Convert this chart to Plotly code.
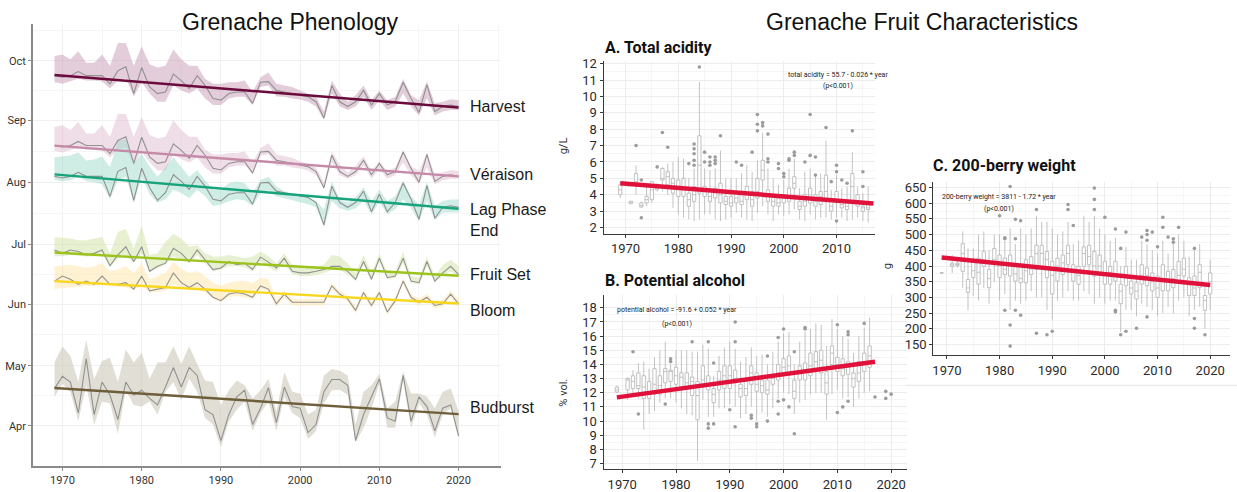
import plotly.graph_objects as go

W, H = 1237, 492


def fx(p):
    return p / W


def fy(p):
    return 1 - p / H


# ---------------- Phenology (day of year), 1969-2020 ----------------
years = list(range(1969, 2021))

harvest = [266.5, 265.7, 266.5, 268.5, 266.5, 266.5, 266.5, 262.4, 269.0, 270.9,
           257.5, 270.6, 260.8, 257.5, 258.3, 267.3, 264.0, 260.0, 266.5, 261.6,
           255.0, 254.2, 257.5, 258.3, 258.3, 252.6, 263.2, 263.5, 259.1, 258.3,
           257.5, 256.7, 255.9, 253.4, 245.2, 261.6, 253.4, 251.0, 253.4, 259.1,
           251.8, 257.5, 251.8, 253.4, 263.2, 255.0, 248.0, 262.0, 248.5, 251.0,
           251.8, 251.0]
harvest_hi = [276.3, 277.1, 274.7, 278.7, 273.0, 273.0, 277.1, 271.4, 282.8, 282.8,
              271.4, 281.2, 272.2, 270.6, 271.4, 279.6, 274.7, 271.4, 271.4, 264.9,
              262.4, 262.4, 263.2, 263.2, 264.0, 258.3, 265.7, 268.1, 262.4, 261.6,
              260.8, 259.1, 257.5, 255.9, 248.5, 264.0, 257.5, 253.4, 256.7, 261.6,
              254.2, 259.1, 254.2, 255.9, 264.9, 256.7, 254.2, 263.5, 252.6, 253.4,
              254.7, 254.2]
harvest_lo = [263.2, 262.4, 263.5, 264.9, 264.0, 264.0, 263.5, 260.0, 264.0, 265.0,
              255.9, 263.2, 257.5, 253.4, 253.4, 261.6, 259.1, 257.5, 260.0, 255.0,
              251.8, 251.8, 255.0, 255.9, 255.9, 251.8, 260.8, 261.6, 256.0, 255.9,
              255.0, 254.5, 253.4, 251.0, 244.4, 257.5, 251.0, 249.3, 251.0, 255.9,
              249.3, 254.2, 249.3, 251.0, 257.5, 251.0, 246.5, 255.0, 246.5, 248.5,
              249.3, 249.3]

veraison = [231.5, 230.7, 231.5, 233.5, 231.5, 231.5, 231.5, 227.4, 234.0, 235.9,
            222.5, 235.6, 225.8, 222.5, 223.3, 232.3, 229.0, 225.0, 231.5, 226.6,
            220.0, 219.2, 222.5, 223.3, 223.3, 217.6, 228.2, 228.5, 224.1, 223.3,
            222.5, 221.7, 220.9, 218.4, 210.2, 226.6, 218.4, 216.0, 218.4, 224.1,
            216.8, 222.5, 216.8, 218.4, 228.2, 220.0, 213.0, 227.0, 213.5, 216.0,
            216.8, 216.0]
veraison_hi = [240.8, 241.6, 239.2, 243.2, 237.5, 237.5, 241.6, 235.9, 247.3, 247.3,
               235.9, 245.7, 236.7, 235.1, 235.9, 244.1, 239.2, 235.9, 235.9, 229.4,
               226.9, 226.9, 227.7, 227.7, 228.5, 222.8, 230.2, 232.6, 226.9, 226.1,
               225.3, 223.6, 222.0, 220.4, 213.0, 228.5, 222.0, 217.9, 221.2, 226.1,
               218.7, 223.6, 218.7, 220.4, 229.4, 221.2, 218.7, 228.0, 217.1, 217.9,
               219.2, 218.7]
veraison_lo = [228.7, 227.9, 229.0, 230.4, 229.5, 229.5, 229.0, 225.5, 229.5, 230.5,
               221.4, 228.7, 223.0, 218.9, 218.9, 227.1, 224.6, 223.0, 225.5, 220.5,
               217.3, 217.3, 220.5, 221.4, 221.4, 217.3, 226.3, 227.1, 221.5, 221.4,
               220.5, 220.0, 218.9, 216.5, 209.9, 223.0, 216.5, 214.8, 216.5, 221.4,
               214.8, 219.7, 214.8, 216.5, 223.0, 216.5, 212.0, 220.5, 212.0, 214.0,
               214.8, 214.8]

lag_end = [216.0, 215.2, 216.0, 218.0, 216.0, 216.0, 216.0, 206.0, 218.5, 220.4,
           204.0, 220.1, 210.3, 204.0, 207.8, 216.8, 213.5, 209.5, 216.0, 211.1,
           204.5, 203.7, 207.0, 207.8, 207.8, 202.1, 212.7, 213.0, 208.6, 207.8,
           207.0, 206.2, 205.4, 202.9, 191.7, 211.1, 202.9, 200.5, 202.9, 208.6,
           198.3, 207.0, 198.3, 202.9, 212.7, 204.5, 194.5, 211.5, 195.0, 200.5,
           201.3, 200.5]
lag_end_hi = [225.6, 226.0, 226.5, 228.1, 224.0, 224.5, 226.0, 220.7, 233.8, 234.6,
              222.4, 227.3, 221.0, 215.8, 220.7, 225.6, 220.7, 215.8, 219.1, 214.2,
              209.3, 209.3, 212.6, 213.4, 212.6, 207.7, 214.2, 215.8, 210.9, 208.5,
              207.5, 206.8, 205.5, 203.6, 199.5, 213.5, 204.4, 202.8, 205.5, 210.5,
              203.6, 209.3, 203.6, 206.0, 214.0, 206.0, 201.9, 213.0, 201.1, 203.6,
              204.4, 204.4]
lag_end_lo = [214.2, 213.5, 214.0, 215.8, 213.5, 213.0, 212.0, 204.4, 214.2, 215.8,
              202.5, 215.8, 207.0, 202.8, 204.5, 209.3, 207.7, 205.0, 209.3, 206.0,
              201.1, 201.9, 203.5, 204.5, 204.0, 201.1, 207.7, 209.0, 206.0, 205.0,
              204.0, 203.0, 202.0, 200.5, 190.5, 203.6, 200.0, 198.7, 200.0, 203.6,
              197.0, 203.0, 197.0, 199.5, 204.4, 200.0, 193.5, 203.6, 194.0, 197.9,
              197.9, 197.9]

fruit_set = [179.1, 177.4, 179.1, 178.3, 176.6, 177.4, 179.1, 171.2, 176.6, 180.7,
             173.3, 180.7, 168.4, 170.9, 172.5, 179.9, 177.4, 173.3, 179.1, 174.2,
             169.3, 170.1, 173.3, 171.7, 172.5, 169.3, 175.5, 173.0, 170.1, 175.0,
             168.4, 167.6, 167.6, 168.4, 169.3, 170.9, 170.9, 168.4, 164.4, 173.3,
             164.4, 175.0, 165.2, 166.0, 175.0, 163.5, 162.7, 173.3, 163.5, 167.6,
             170.9, 166.8]
fruit_set_hi = [185.6, 185.2, 184.8, 184.0, 184.0, 184.8, 185.6, 177.4, 188.1, 189.7,
                179.9, 191.3, 176.6, 177.4, 183.2, 187.2, 184.8, 180.7, 181.5, 177.4,
                175.8, 175.8, 176.6, 175.8, 175.0, 175.8, 178.3, 176.0, 172.5, 177.4,
                171.7, 171.0, 170.9, 171.0, 171.7, 176.6, 175.8, 172.5, 167.6, 176.6,
                167.6, 177.4, 167.6, 168.4, 178.3, 166.0, 165.2, 175.8, 166.0, 171.7,
                174.2, 170.9]
fruit_set_lo = [175.8, 176.0, 176.6, 176.2, 175.8, 176.0, 177.4, 170.5, 174.9, 175.8,
                172.5, 177.4, 168.0, 170.0, 171.7, 175.8, 174.5, 172.5, 176.6, 172.5,
                168.4, 169.3, 171.0, 170.9, 170.5, 168.4, 173.3, 170.5, 168.4, 172.5,
                166.8, 166.0, 166.0, 166.5, 167.6, 169.3, 169.0, 166.8, 163.5, 171.7,
                163.5, 173.3, 164.4, 165.0, 172.5, 162.5, 161.9, 170.9, 162.7, 166.0,
                168.4, 165.2]

bloom = [163.5, 166.0, 164.4, 161.9, 163.5, 161.9, 166.0, 161.9, 161.9, 162.7,
         159.5, 166.0, 158.6, 159.5, 160.3, 167.6, 162.7, 160.3, 162.7, 159.5,
         155.4, 153.7, 157.0, 157.8, 157.0, 155.4, 161.1, 159.5, 152.1, 157.0,
         152.9, 152.9, 152.9, 152.9, 152.9, 161.1, 157.0, 154.6, 148.8, 157.8,
         151.3, 157.8, 148.0, 153.7, 163.5, 155.4, 152.9, 155.4, 151.3, 152.1,
         157.0, 152.1]
bloom_hi = [170.9, 171.3, 171.7, 171.0, 170.1, 171.0, 172.5, 168.4, 169.3, 170.9,
            167.6, 172.5, 164.4, 166.0, 167.6, 173.3, 169.5, 167.6, 168.4, 166.0,
            162.7, 161.1, 162.7, 163.5, 163.5, 162.5, 165.2, 164.5, 154.0, 158.6,
            154.6, 154.4, 154.4, 154.6, 154.6, 162.7, 158.6, 156.3, 150.5, 159.5,
            153.0, 159.3, 149.8, 155.4, 165.0, 157.0, 154.8, 157.2, 153.0, 154.0,
            158.8, 154.4]
bloom_lo = [159.5, 160.0, 160.3, 160.5, 161.1, 161.1, 161.9, 161.1, 160.5, 160.3,
            159.0, 161.1, 157.8, 158.0, 158.6, 161.9, 160.5, 159.5, 159.5, 157.8,
            154.6, 152.9, 155.4, 156.0, 155.4, 154.6, 159.5, 158.0, 150.6, 155.4,
            151.3, 151.3, 151.3, 151.3, 151.3, 159.5, 155.4, 153.0, 147.2, 156.2,
            149.8, 156.2, 146.5, 152.1, 161.9, 153.8, 151.3, 153.8, 149.8, 150.6,
            155.4, 150.4]

budburst = [109.6, 115.8, 112.9, 97.4, 124.7, 96.6, 112.9, 106.4, 94.1, 112.9,
            106.4, 108.8, 104.7, 101.4, 110.4, 120.2, 110.4, 120.2, 116.2, 99.0,
            96.6, 83.5, 96.6, 105.5, 108.8, 91.6, 99.8, 110.0, 92.5, 110.4,
            100.6, 99.8, 87.6, 91.6, 108.0, 114.2, 114.2, 111.3, 83.5, 96.6,
            105.5, 114.5, 94.9, 93.3, 116.2, 93.3, 105.5, 100.6, 88.4, 99.8,
            101.4, 85.9]
budburst_hi = [122.7, 130.9, 126.0, 112.9, 134.1, 114.5, 123.5, 125.1, 112.9, 129.2,
               122.7, 127.6, 114.5, 122.7, 122.7, 130.9, 121.9, 130.9, 121.9, 113.7,
               112.9, 101.4, 108.8, 113.7, 111.3, 104.7, 108.8, 114.5, 98.2, 117.8,
               108.0, 107.2, 96.6, 99.0, 116.2, 119.4, 118.6, 116.2, 91.6, 108.0,
               111.3, 117.0, 99.8, 103.1, 118.0, 107.2, 107.2, 105.5, 99.8, 108.0,
               109.6, 98.2]
budburst_lo = [105.5, 112.1, 108.0, 93.3, 111.3, 91.6, 103.1, 102.3, 86.8, 108.8,
               101.4, 100.6, 103.1, 96.6, 108.0, 112.9, 103.9, 114.5, 108.0, 94.9,
               91.6, 80.2, 93.3, 99.0, 103.1, 88.4, 97.4, 103.1, 88.4, 105.5,
               97.4, 94.9, 84.3, 88.4, 102.3, 108.8, 109.0, 106.4, 82.7, 90.0,
               99.8, 112.1, 90.0, 90.0, 113.7, 90.0, 102.3, 96.6, 85.1, 96.6,
               99.8, 84.5]

stage_names = ["Harvest", "Véraison", "Lag Phase<br>End", "Fruit Set", "Bloom", "Budburst"]
stage_trend_1969 = [266.8, 231.4, 217.0, 177.8, 163.5, 109.9]
stage_trend_2020 = [250.5, 216.0, 199.8, 166.2, 152.3, 96.8]
stage_line_colors = ["#6b0a3c", "#c58aa7", "#17a37b", "#9cc31d", "#f7d61c", "#6f5e3a"]
stage_fill_colors = ["rgba(196,150,180,0.48)", "rgba(222,186,206,0.48)",
                     "rgba(140,212,190,0.42)", "rgba(205,225,160,0.48)",
                     "rgba(255,228,160,0.48)", "rgba(196,190,172,0.50)"]
stage_label_y = [105, 174, 221, 277, 314, 413]

month_doy = [91, 121, 152, 182, 213, 244, 274]
month_names = ["Apr", "May", "Jun", "Jul", "Aug", "Sep", "Oct"]

# ---------------- A. Total acidity (g/L) ----------------
ta_years = [1969] + list(range(1971, 2017))
ta_lo = [3.8, 3.45, 4.0, 3.2, 3.3, 3.5, 4.2, 4.2, 4.0, 3.2, 2.8, 2.6, 2.5, 2.4, 2.5, 2.8,
         2.8, 2.5, 2.4, 2.5, 2.6, 2.9, 2.6, 2.5, 2.4, 2.9, 3.3, 2.8, 2.4, 2.8, 2.7, 2.8,
         3.1, 2.5, 2.4, 2.8, 2.5, 2.6, 2.6, 2.5, 2.6, 2.6, 2.4, 2.5, 2.6, 2.4, 2.3]
ta_q1 = [4.0, 3.45, 4.6, 3.25, 3.5, 3.7, 4.3, 4.9, 4.6, 4.1, 3.9, 3.9, 3.3, 3.6, 4.1, 3.9,
         3.6, 3.8, 3.5, 3.4, 3.3, 3.5, 3.4, 3.7, 3.3, 3.8, 4.9, 3.6, 3.3, 3.3, 3.5, 3.6,
         4.4, 3.1, 3.3, 3.5, 3.3, 3.4, 3.6, 3.0, 3.5, 3.2, 3.1, 3.5, 3.3, 3.0, 3.1]
ta_med = [4.3, 3.55, 4.8, 3.35, 3.7, 4.3, 4.4, 5.0, 5.1, 4.7, 4.4, 4.4, 3.7, 4.0, 5.8, 4.3,
          3.9, 4.1, 4.0, 3.6, 3.5, 3.8, 3.6, 4.1, 3.7, 4.2, 5.5, 3.9, 3.6, 3.5, 3.8, 3.9,
          4.7, 3.3, 3.6, 4.0, 3.6, 3.9, 4.2, 3.3, 3.7, 3.4, 3.3, 4.5, 3.6, 3.2, 3.2]
ta_q3 = [4.6, 3.6, 5.3, 3.5, 3.9, 4.8, 4.6, 5.6, 5.4, 5.0, 4.9, 5.0, 4.1, 4.5, 7.6, 4.5,
         4.2, 4.4, 4.7, 3.9, 3.9, 4.2, 4.0, 4.5, 4.2, 5.0, 6.1, 4.3, 3.9, 3.8, 4.0, 4.4,
         5.1, 3.6, 4.0, 4.4, 4.0, 4.2, 5.2, 3.6, 4.2, 3.6, 3.6, 5.3, 4.0, 3.3, 3.4]
ta_hi = [4.8, 3.6, 5.8, 3.6, 4.6, 4.8, 4.7, 5.7, 5.9, 6.0, 6.3, 6.2, 5.0, 5.6, 10.9, 5.6,
         5.5, 5.6, 6.7, 5.0, 5.0, 5.0, 5.3, 5.8, 5.4, 6.1, 7.8, 5.6, 5.0, 4.6, 4.9, 5.6,
         6.2, 4.4, 5.4, 5.6, 5.1, 5.3, 7.3, 4.3, 5.2, 4.4, 4.5, 6.6, 4.5, 4.1, 4.5]
ta_out_year = [1972, 1973, 1973, 1976, 1977, 1978, 1982, 1983, 1983, 1983, 1983, 1983,
               1984, 1985, 1985, 1986, 1986, 1986, 1987, 1987, 1987, 1988, 1991, 1992,
               1994, 1995, 1995, 1995, 1996, 1996, 1997, 1997, 1997, 1999, 1999, 2000,
               2000, 2001, 2001, 2002, 2002, 2004, 2005, 2005, 2006, 2006, 2008, 2009,
               2010, 2010, 2010, 2011, 2012, 2013, 2015, 2015]
ta_out_val = [7.0, 4.9, 2.6, 5.7, 7.8, 6.9, 5.9, 5.8, 6.1, 6.5, 6.8, 7.1,
              11.8, 6.0, 6.6, 5.8, 6.0, 6.3, 5.9, 6.1, 6.3, 7.6, 6.0, 5.8,
              6.6, 7.9, 8.3, 8.9, 8.2, 8.4, 6.0, 6.2, 7.7, 5.6, 5.9, 5.1,
              5.3, 6.1, 6.2, 6.4, 6.6, 6.0, 6.4, 8.9, 5.2, 6.3, 8.1, 4.8,
              5.4, 5.8, 2.4, 4.9, 4.7, 7.9, 4.5, 5.4]
ta_intercept, ta_slope = 55.7, -0.0259

# ---------------- B. Potential alcohol (% vol.) ----------------
pa_years = [1969] + list(range(1971, 2017))
pa_lo = [12.0, 11.5, 11.8, 11.6, 9.4, 10.5, 10.7, 11.3, 11.6, 11.6, 11.3, 10.9, 10.5, 10.4,
         7.2, 11.5, 10.3, 10.3, 10.9, 10.9, 11.2, 11.0, 10.2, 10.5, 11.0, 10.0, 10.6, 10.3,
         10.9, 11.6, 12.0, 11.9, 10.5, 11.3, 11.5, 11.9, 12.0, 12.0, 10.1, 11.9, 12.2, 11.6,
         11.7, 11.0, 11.6, 12.0, 12.1]
pa_q1 = [12.05, 12.2, 12.3, 12.3, 11.6, 11.6, 11.9, 11.9, 12.7, 12.8, 12.6, 12.4, 12.3, 11.8,
         10.1, 12.4, 12.2, 11.3, 12.2, 12.3, 12.3, 12.7, 11.7, 11.8, 12.6, 12.1, 12.0, 11.9,
         12.6, 12.9, 13.3, 13.3, 11.6, 12.9, 12.9, 13.2, 13.6, 13.4, 11.9, 14.0, 13.5, 13.2,
         13.3, 12.4, 12.8, 13.5, 13.8]
pa_med = [12.2, 12.9, 12.8, 12.5, 12.4, 12.0, 12.6, 12.5, 13.5, 13.5, 13.2, 13.1, 12.7, 12.8,
          11.8, 12.9, 12.6, 11.9, 12.9, 13.2, 13.2, 13.0, 12.3, 12.3, 13.4, 12.6, 12.5, 12.2,
          13.0, 13.4, 13.8, 13.9, 12.1, 13.4, 13.6, 13.9, 14.2, 14.3, 12.7, 14.8, 14.0, 13.7,
          13.8, 13.0, 13.4, 14.2, 14.6]
pa_q3 = [12.4, 13.0, 13.2, 13.4, 13.2, 12.8, 13.7, 13.2, 13.7, 13.6, 13.8, 13.4, 13.4, 13.1,
         12.8, 13.9, 13.2, 12.3, 13.5, 13.9, 13.9, 13.6, 12.6, 12.8, 13.9, 13.4, 12.9, 12.9,
         13.3, 14.0, 14.4, 14.6, 12.9, 13.9, 14.1, 14.8, 14.9, 15.0, 13.5, 15.3, 14.5, 14.4,
         14.2, 13.4, 14.2, 14.8, 15.3]
pa_hi = [12.5, 13.1, 13.6, 14.1, 14.2, 13.7, 14.5, 15.0, 15.6, 14.0, 15.0, 15.0, 15.0, 14.9,
         14.9, 15.4, 15.1, 13.2, 14.6, 15.2, 15.6, 15.1, 14.2, 14.5, 15.2, 14.6, 14.7, 14.0,
         14.9, 15.6, 16.2, 16.3, 14.0, 15.6, 16.3, 16.5, 16.9, 16.8, 15.3, 17.2, 16.5, 16.0,
         15.8, 14.8, 16.0, 16.6, 17.3]
pa_out_year = [1972, 1973, 1978, 1979, 1979, 1983, 1986, 1986, 1986, 1987, 1987, 1990,
               1991, 1991, 1991, 1994, 1994, 1995, 1995, 1997, 1997, 1999, 1999, 1999,
               2000, 2000, 2001, 2002, 2002, 2004, 2004, 2010, 2010, 2011, 2012, 2012,
               2012, 2015, 2017, 2019, 2019, 2020]
pa_out_val = [14.9, 10.5, 11.2, 14.2, 14.4, 15.6, 15.6, 9.8, 9.5, 14.1, 9.8, 10.8,
              17.0, 15.6, 9.6, 10.4, 10.2, 9.8, 9.6, 14.6, 10.0, 15.9, 11.4, 10.5,
              16.5, 11.5, 11.0, 14.9, 9.1, 16.5, 16.6, 16.8, 10.6, 11.0, 16.3, 16.1,
              11.4, 16.9, 11.7, 12.1, 11.6, 11.9]
pa_intercept, pa_slope = -91.6, 0.05245

# ---------------- C. 200-berry weight (g) ----------------
bw_years = [1969] + list(range(1971, 2021))
bw_lo = [378, 378, 395, 330, 259, 305, 290, 330, 280, 350, 290, 310, 260, 290, 280, 290,
         320, 300, 300, 260, 230, 290, 300, 320, 290, 290, 320, 310, 280, 300, 280, 290,
         290, 190, 260, 260, 240, 280, 270, 260, 240, 250, 270, 250, 290, 300, 240, 260,
         270, 200, 260]
bw_q1 = [378, 399, 402, 383, 316, 363, 342, 399, 331, 404, 363, 373, 368, 352, 347, 347,
         373, 389, 394, 363, 311, 352, 373, 404, 352, 342, 399, 404, 368, 373, 342, 342,
         352, 280, 337, 311, 295, 342, 337, 321, 300, 321, 321, 331, 352, 368, 306, 306,
         331, 259, 311]
bw_med = [378, 404, 405, 440, 330, 385, 380, 420, 360, 420, 400, 390, 400, 375, 360, 385,
          390, 440, 440, 420, 370, 400, 410, 440, 380, 370, 440, 430, 400, 400, 370, 380,
          370, 320, 370, 330, 320, 370, 370, 350, 330, 360, 360, 360, 370, 390, 340, 330,
          380, 290, 350]
bw_q3 = [378, 409, 409, 471, 357, 415, 425, 446, 389, 456, 435, 425, 435, 399, 400, 420,
         430, 466, 466, 446, 415, 425, 435, 466, 404, 399, 461, 466, 446, 435, 415, 399,
         415, 342, 399, 352, 347, 404, 394, 378, 368, 404, 383, 389, 415, 425, 363, 368,
         404, 306, 378]
bw_hi = [378, 435, 420, 510, 456, 456, 500, 510, 450, 500, 500, 480, 520, 470, 520, 500,
         520, 560, 540, 540, 520, 500, 510, 540, 470, 480, 560, 540, 560, 520, 500, 480,
         490, 400, 460, 420, 420, 480, 470, 450, 440, 480, 440, 470, 500, 480, 430, 450,
         470, 340, 420]
bw_out_year = [1980, 1981, 1981, 1981, 1982, 1982, 1982, 1983, 1983, 1983, 1984, 1984,
               1987, 1987, 1989, 1990, 1993, 1993, 1994, 1998, 1998, 1998, 2000, 2002,
               2002, 2002, 2003, 2003, 2004, 2004, 2006, 2007, 2008, 2008, 2008, 2008,
               2009, 2010, 2011, 2011, 2012, 2013, 2013, 2014, 2017, 2017, 2017, 2019]
bw_out_val = [560, 487, 490, 259, 653, 145, 212, 549, 487, 259, 544, 243,
              580, 186, 181, 192, 596, 580, 529, 648, 612, 580, 555, 518,
              259, 254, 456, 181, 508, 192, 202, 492, 513, 500, 482, 238,
              508, 461, 555, 523, 492, 487, 476, 523, 456, 233, 202, 181]
bw_intercept, bw_slope = 3811, -1.7185

fig = go.Figure()

# ---- phenology ribbons, observed lines and trends ----
stage_series = [
    (harvest, harvest_hi, harvest_lo),
    (veraison, veraison_hi, veraison_lo),
    (lag_end, lag_end_hi, lag_end_lo),
    (fruit_set, fruit_set_hi, fruit_set_lo),
    (bloom, bloom_hi, bloom_lo),
    (budburst, budburst_hi, budburst_lo),
]
for i, (obs, hi, lo) in enumerate(stage_series):
    fig.add_trace(go.Scatter(
        x=years + years[::-1], y=hi + lo[::-1], fill="toself",
        fillcolor=stage_fill_colors[i], line=dict(width=0), mode="lines",
        hoverinfo="skip", showlegend=False, xaxis="x", yaxis="y"))
for i, (obs, hi, lo) in enumerate(stage_series):
    fig.add_trace(go.Scatter(
        x=years, y=obs, mode="lines", line=dict(color="#919191", width=1.1),
        showlegend=False, xaxis="x", yaxis="y"))
for i in range(len(stage_names)):
    fig.add_trace(go.Scatter(
        x=[years[0], years[-1]], y=[stage_trend_1969[i], stage_trend_2020[i]],
        mode="lines", line=dict(color=stage_line_colors[i], width=2.4),
        showlegend=False, xaxis="x", yaxis="y"))


def add_boxes(xs, lo, q1, med, q3, hi, out_x, out_y, intercept, slope, x0, x1, xa, ya):
    fig.add_trace(go.Box(
        x=xs, lowerfence=lo, q1=q1, median=med, q3=q3, upperfence=hi,
        fillcolor="white", line=dict(color="#b4b4b4", width=0.8),
        whiskerwidth=0, width=0.62, boxpoints=False, showlegend=False,
        xaxis=xa, yaxis=ya))
    fig.add_trace(go.Scatter(
        x=out_x, y=out_y, mode="markers",
        marker=dict(color="#9c9c9c", size=3.6), showlegend=False, xaxis=xa, yaxis=ya))
    fig.add_trace(go.Scatter(
        x=[x0, x1], y=[intercept + slope * x0, intercept + slope * x1], mode="lines",
        line=dict(color="#e0123c", width=4.5), showlegend=False, xaxis=xa, yaxis=ya))


add_boxes(ta_years, ta_lo, ta_q1, ta_med, ta_q3, ta_hi, ta_out_year, ta_out_val,
          ta_intercept, ta_slope, 1969, 2017, "x2", "y2")
add_boxes(pa_years, pa_lo, pa_q1, pa_med, pa_q3, pa_hi, pa_out_year, pa_out_val,
          pa_intercept, pa_slope, 1969, 2017, "x3", "y3")
add_boxes(bw_years, bw_lo, bw_q1, bw_med, bw_q3, bw_hi, bw_out_year, bw_out_val,
          bw_intercept, bw_slope, 1969, 2020, "x4", "y4")

tick_font = dict(family="Roboto, Arial, sans-serif", size=13, color="#2b2b2b")
grid_major = "#ececec"
grid_minor = "#f5f5f5"


def panel_x(domain, rng):
    return dict(domain=domain, range=rng, tickvals=[1970, 1980, 1990, 2000, 2010, 2020],
                showline=True, linecolor="#3a3a3a", linewidth=1, ticks="outside",
                ticklen=3, tickcolor="#3a3a3a", showgrid=True, gridcolor=grid_major,
                minor=dict(tickvals=[1965, 1975, 1985, 1995, 2005, 2015], showgrid=True,
                           gridcolor=grid_minor, ticks=""),
                zeroline=False, tickfont=tick_font, fixedrange=True)


def panel_y(domain, rng, tickvals, minor_vals):
    return dict(domain=domain, range=rng, tickvals=tickvals,
                showline=True, linecolor="#3a3a3a", linewidth=1, ticks="outside",
                ticklen=3, tickcolor="#3a3a3a", showgrid=True, gridcolor=grid_major,
                minor=dict(tickvals=minor_vals, showgrid=True, gridcolor=grid_minor, ticks=""),
                zeroline=False, tickfont=tick_font, fixedrange=True)


fig.update_layout(
    width=W, height=H, margin=dict(l=0, r=0, t=0, b=0),
    paper_bgcolor="white", plot_bgcolor="white", showlegend=False,
    xaxis=dict(domain=[fx(32), fx(500)], range=[1966.28, 2025.3],
               tickvals=[1970, 1980, 1990, 2000, 2010, 2020],
               showline=True, linecolor="#8a8a8a", linewidth=1.6, ticks="outside",
               ticklen=3, tickcolor="#8a8a8a", showgrid=True, gridcolor="#f0f0f0",
               minor=dict(tickvals=[1965, 1975, 1985, 1995, 2005, 2015, 2025],
                          showgrid=True, gridcolor="#f6f6f6", ticks=""),
               zeroline=False,
               tickfont=dict(family="Roboto, Arial, sans-serif", size=11, color="#333"),
               fixedrange=True),
    yaxis=dict(domain=[fy(473), fy(20)], range=[70.6, 292.6],
               tickvals=month_doy, ticktext=month_names,
               showline=True, linecolor="#8a8a8a", linewidth=1.6, ticks="outside",
               ticklen=3, tickcolor="#8a8a8a", showgrid=True, gridcolor="#f0f0f0",
               minor=dict(tickvals=[106, 136.5, 167, 197.5, 228.5, 259, 289],
                          showgrid=True, gridcolor="#f6f6f6", ticks=""),
               zeroline=False,
               tickfont=dict(family="Roboto, Arial, sans-serif", size=11, color="#333"),
               fixedrange=True),
    xaxis2=dict(panel_x([fx(603), fx(875)], [1965.83, 2017.35]), anchor="y2"),
    yaxis2=dict(panel_y([fy(235), fy(58)], [1.62, 12.18], list(range(2, 13)),
                        [2.5 + k for k in range(10)]), anchor="x2"),
    xaxis3=dict(panel_x([fx(603), fx(907)], [1966.52, 2023.0]), anchor="y3"),
    yaxis3=dict(panel_y([fy(476), fy(298)], [6.59, 18.88], list(range(7, 19)),
                        [7.5 + k for k in range(11)]), anchor="x3"),
    xaxis4=dict(panel_x([fx(933), fx(1230)], [1967.4, 2023.76]), anchor="y4"),
    yaxis4=dict(panel_y([fy(359), fy(182)], [116.7, 667.7], list(range(150, 651, 50)),
                        [175 + 50 * k for k in range(10)]), anchor="x4"),
)

ann = []
title_font = dict(family="Arial, Liberation Sans, sans-serif", size=23, color="#111")
ann.append(dict(text="Grenache Phenology", x=fx(290), y=fy(18), xref="paper", yref="paper",
                showarrow=False, font=title_font, xanchor="center", yanchor="middle"))
ann.append(dict(text="Grenache Fruit Characteristics", x=fx(922), y=fy(18), xref="paper",
                yref="paper", showarrow=False, font=title_font, xanchor="center",
                yanchor="middle"))

label_font = dict(family="Arial, Liberation Sans, sans-serif", size=16, color="#1a1a1a")
for name, ly in zip(stage_names, stage_label_y):
    ann.append(dict(text=name, x=fx(467), y=fy(ly), xref="paper", yref="paper",
                    showarrow=False, font=label_font, xanchor="left", yanchor="middle",
                    align="left"))

panel_font = dict(family="Roboto, Arial, sans-serif", size=16, color="#111")
for txt, px, py in [("<b>A. Total acidity</b>", 602, 44),
                    ("<b>B. Potential alcohol</b>", 602, 283),
                    ("<b>C. 200-berry weight</b>", 931, 165)]:
    ann.append(dict(text=txt, x=fx(px), y=fy(py), xref="paper", yref="paper",
                    showarrow=False, font=panel_font, xanchor="left", yanchor="middle"))

axis_title_font = dict(family="Roboto, Arial, sans-serif", size=11, color="#333")
for txt, px, py in [("g/L", 563, 145), ("% vol.", 563, 398), ("g", 887, 268)]:
    ann.append(dict(text=txt, x=fx(px), y=fy(py), xref="paper", yref="paper",
                    showarrow=False, font=axis_title_font, textangle=-90,
                    xanchor="center", yanchor="middle"))


def eq_text(label, intercept, slope, digits):
    sign = "-" if slope < 0 else "+"
    return f"{label} = {intercept:g} {sign} {abs(slope):.{digits}f} * year"


eq_font = dict(family="Roboto, Arial, sans-serif", size=7, color="#222")
for txt, px, py in [(eq_text("total acidity", ta_intercept, ta_slope, 3), 838, 73),
                    ("(p<0.001)", 838, 84),
                    (eq_text("potential alcohol", pa_intercept, pa_slope, 3), 677, 313),
                    ("(p<0.001)", 677, 327),
                    (eq_text("200-berry weight", bw_intercept, bw_slope, 2), 999, 197),
                    ("(p<0.001)", 999, 210)]:
    ann.append(dict(text=txt, x=fx(px), y=fy(py), xref="paper", yref="paper",
                    showarrow=False, font=eq_font, xanchor="center", yanchor="middle"))

fig.update_layout(annotations=ann)
fig.add_shape(type="line", xref="paper", yref="paper", x0=fx(905), x1=1, y0=fy(390),
              y1=fy(390), line=dict(color="#e3e3e3", width=1))

fig.write_html("out.html")
